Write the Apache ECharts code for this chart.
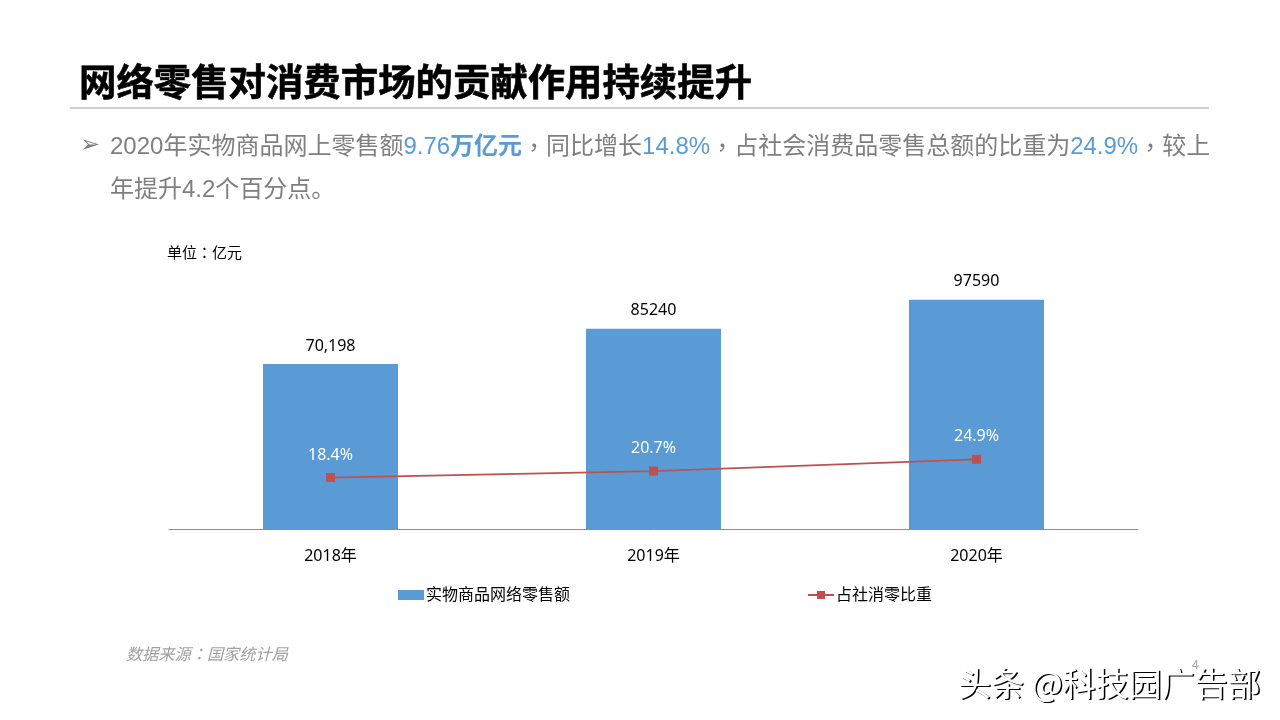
<!DOCTYPE html>
<html><head><meta charset="utf-8">
<style>html,body{margin:0;padding:0;background:#fff}#c{width:1280px;height:720px}</style>
<script src="https://cdn.jsdelivr.net/npm/echarts@6/dist/echarts.min.js"></script>
</head><body><div id="c"></div>
<script>
const categories = ['2018年','2019年','2020年'];
const salesValues = [70198, 85240, 97590];
const salesLabels = ['70,198','85240','97590'];
const shareValues = [18.4, 20.7, 24.9];
const seriesNames = ['实物商品网络零售额','占社消零比重'];
const titleText = '网络零售对消费市场的贡献作用持续提升';
const unitText = '单位：亿元';
const sourceText = '数据来源：国家统计局';
const mark = '头条 @科技园广告部';

const CJK = '"Noto Sans CJK SC"';
const LAT = '"Liberation Sans",' + CJK;
const UI = '"Noto Sans",' + CJK;
const GRAY = '#7f7f7f', BLUE = '#5b9bd5', RED = '#c0504d';

const chart = echarts.init(document.getElementById('c'), null, {renderer:'canvas'});
chart.setOption({
  animation:false,
  backgroundColor:'#fff',
  grid:{left:169,right:142,top:294,bottom:191},
  legend:{
    left:393, top:582, itemWidth:26, itemHeight:10, itemGap:237,
    textStyle:{fontFamily:UI,fontSize:16,color:'#000',padding:[0,0,0,-3]},
    data:[{name:seriesNames[0],icon:'rect'},{name:seriesNames[1]}]
  },
  xAxis:{type:'category',data:categories,
    axisLine:{lineStyle:{color:'#8c8c8c',width:1}},axisTick:{show:false},
    axisLabel:{fontFamily:UI,fontSize:16,color:'#000',margin:19}},
  yAxis:[
    {type:'value',min:0,max:100000,show:false},
    {type:'value',min:0,max:84,show:false}
  ],
  series:[
    {name:seriesNames[0],type:'bar',barWidth:135,data:salesValues,
     itemStyle:{color:BLUE},
     label:{show:true,position:'top',distance:10,fontFamily:UI,fontSize:16,color:'#000',
       formatter:p=>salesLabels[p.dataIndex]}},
    {name:seriesNames[1],type:'line',yAxisIndex:1,data:shareValues,
     symbol:'rect',symbolSize:9,
     lineStyle:{color:RED,width:1.75},itemStyle:{color:RED},
     label:{show:true,position:'top',distance:10,fontFamily:UI,fontSize:16,color:'#fff',
       formatter:p=>p.value.toFixed(1)+'%'}}
  ],
  graphic:[
    {type:'text',silent:true,style:{x:79,y:82,text:titleText,fill:'#000',
      font:'bold 37.4px '+CJK,textAlign:'left',textVerticalAlign:'middle',
      stroke:'#000',lineWidth:0.6}},
    {type:'line',silent:true,shape:{x1:70,y1:108,x2:1209,y2:108},style:{stroke:'#bfbfbf',lineWidth:1.5}},
    {type:'text',silent:true,style:{x:80,y:146,text:'➢',fill:GRAY,
      font:'24px "DejaVu Sans"',textAlign:'left',textVerticalAlign:'middle'}},
    {type:'text',silent:true,style:{x:110,y:147,textVerticalAlign:'middle',
      text:'{g|2020年实物商品网上零售额}{b|9.76}{bb|万亿元}{c|，}{g|同比增长}{b|14.8%}{c|，}{g|占社会消费品零售总额的比重为}{b|24.9%}{c|，}{g|较上}',
      rich:{
        g:{fill:GRAY,font:'24px '+LAT},
        b:{fill:BLUE,font:'24px '+LAT},
        bb:{fill:BLUE,font:'bold 24px '+LAT},
        c:{fill:GRAY,font:'24px "Noto Sans CJK TC"'}
      }}},
    {type:'text',silent:true,style:{x:110,y:190,text:'年提升4.2个百分点。',fill:GRAY,
      font:'24px '+LAT,textVerticalAlign:'middle'}},
    {type:'text',silent:true,style:{x:167,y:252,text:unitText,fill:'#000',
      font:'15px "Noto Sans CJK TC"',textVerticalAlign:'middle'}},
    {type:'text',silent:true,style:{x:126,y:654,text:sourceText,fill:'#a0a0a0',
      font:'italic 16.2px "Noto Sans CJK TC"',textVerticalAlign:'middle'}},
    {type:'text',silent:true,style:{x:1192,y:666,text:'4',fill:'#a6a6a6',
      font:'12px '+LAT,textVerticalAlign:'middle'}},
    {type:'text',silent:true,style:{x:958,y:683,text:mark,fill:'#fff',
      font:'33px '+CJK,textVerticalAlign:'middle',
      textShadowColor:'#000',textShadowBlur:0.5,textShadowOffsetX:1.5,textShadowOffsetY:1.5}}
  ]
});
</script></body></html>
